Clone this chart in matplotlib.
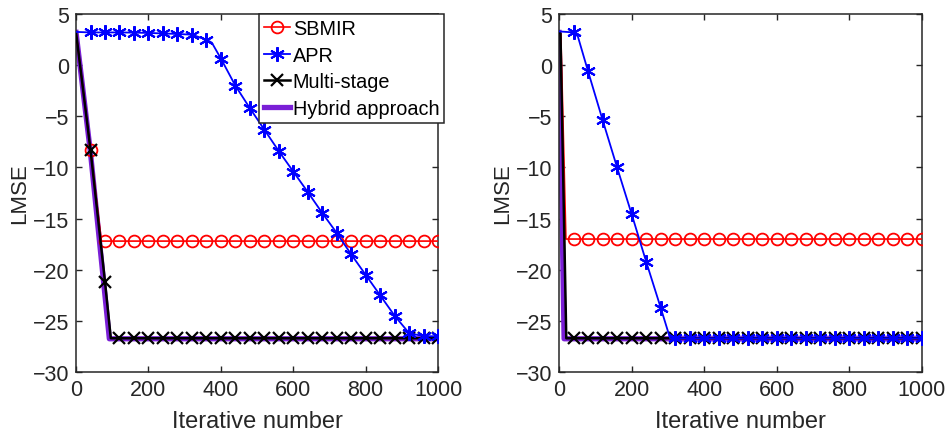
import numpy as np
import matplotlib
matplotlib.use("Agg")
import matplotlib.pyplot as plt

plt.rcParams["font.family"] = ["Liberation Sans", "DejaVu Sans"]

labels = ["SBMIR", "APR", "Multi-stage", "Hybrid approach"]

# marker iterations (every 40 iterations)
steps = [40, 80, 120, 160, 200, 240, 280, 320, 360, 400, 440, 480, 520,
         560, 600, 640, 680, 720, 760, 800, 840, 880, 920, 960, 1000]

# ---- left panel ----
sbmir_l_x = [0, 40, 70] + steps[1:]
sbmir_l_y = [3.2, -8.3, -17.2] + [-17.2] * 24

apr_l_x = [0, 40, 80, 120, 160, 200, 240, 280, 320, 360, 375, 400, 440, 480,
           520, 560, 600, 640, 680, 720, 760, 800, 840, 880, 920, 960, 1000]
apr_l_y = [3.25, 3.2, 3.2, 3.2, 3.18, 3.15, 3.1, 3.05, 2.98, 2.5, 2.2, 0.65,
           -2.0, -4.2, -6.3, -8.4, -10.4, -12.4, -14.45, -16.4, -18.5, -20.5,
           -22.5, -24.5, -26.2, -26.5, -26.5]

multi_l_x = [0, 40, 80, 96] + steps[2:]
multi_l_y = [3.2, -8.3, -21.2, -26.7] + [-26.7] * 23

hybrid_l_x = [0, 40, 92, 1000]
hybrid_l_y = [3.2, -8.6, -26.75, -26.75]

# ---- right panel ----
sbmir_r_x = [0, 5, 19] + steps
sbmir_r_y = [3.2, 3.1, -17.0] + [-17.0] * 25

apr_r_x = [0, 40, 52, 80, 120, 160, 200, 240, 280, 306] + steps[7:]
apr_r_y = [3.3, 3.2, 2.8, -0.6, -5.35, -10.0, -14.55, -19.2, -23.7, -26.7] + [-26.7] * 18

multi_r_x = [0, 4, 20] + steps
multi_r_y = [3.2, 3.1, -26.7] + [-26.7] * 25

hybrid_r_x = [0, 14, 1000]
hybrid_r_y = [3.2, -26.75, -26.75]

ink = "#262626"
purple = "#7a1fd6"


def marker_idx(xs):
    return [i for i, v in enumerate(xs) if v in steps]


def draw(ax, sb, ap, mu, hy, legend=False):
    ax.plot(hy[0], hy[1], color=purple, lw=3.8, zorder=2, label=labels[3])
    ax.plot(sb[0], sb[1], color="red", lw=1.2, marker="o", ms=8.5, mfc="none",
            mew=1.3, markevery=marker_idx(sb[0]), zorder=3, label=labels[0])
    ax.plot(mu[0], mu[1], color="black", lw=1.8, marker="x", ms=8, mew=1.6,
            markevery=marker_idx(mu[0]), zorder=4, label=labels[2])
    ax.plot(ap[0], ap[1], color="blue", lw=1.3, marker=(6, 2, 0), ms=10.5, mew=1.5,
            markevery=marker_idx(ap[0]), zorder=5, label=labels[1])

    ax.set_xlim(0, 1000)
    ax.set_ylim(-30, 5)
    ax.set_xticks(np.arange(0, 1001, 200))
    ax.set_yticks(np.arange(-30, 6, 5))
    ax.tick_params(direction="in", top=True, right=True, length=4, width=1,
                   color=ink, labelcolor=ink, labelsize=15.5, pad=5)
    for s in ax.spines.values():
        s.set_color(ink)
        s.set_linewidth(1.1)
    ax.set_xlabel("Iterative number", fontsize=17, color=ink, labelpad=7)
    ax.set_ylabel("LMSE", fontsize=16, color=ink, labelpad=2)

    if legend:
        h, l = ax.get_legend_handles_labels()
        order = [l.index(name) for name in labels]
        leg = ax.legend([h[i] for i in order], [l[i] for i in order],
                        loc="upper right", bbox_to_anchor=(1.017, 1.0),
                        borderaxespad=0, fontsize=14.3, fancybox=False,
                        framealpha=1, edgecolor=ink, handlelength=1.3,
                        handletextpad=0.15, labelspacing=0.38, borderpad=0.25)
        leg.get_frame().set_linewidth(1.1)
        leg.set_zorder(10)


fig = plt.figure(figsize=(9.47, 4.39), dpi=100)
ax1 = fig.add_axes([0.0803, 0.1503, 0.3823, 0.8155])
ax2 = fig.add_axes([0.5903, 0.1503, 0.3833, 0.8155])

draw(ax1, (sbmir_l_x, sbmir_l_y), (apr_l_x, apr_l_y),
     (multi_l_x, multi_l_y), (hybrid_l_x, hybrid_l_y), legend=True)
draw(ax2, (sbmir_r_x, sbmir_r_y), (apr_r_x, apr_r_y),
     (multi_r_x, multi_r_y), (hybrid_r_x, hybrid_r_y))

fig.savefig("out.png", dpi=100)
